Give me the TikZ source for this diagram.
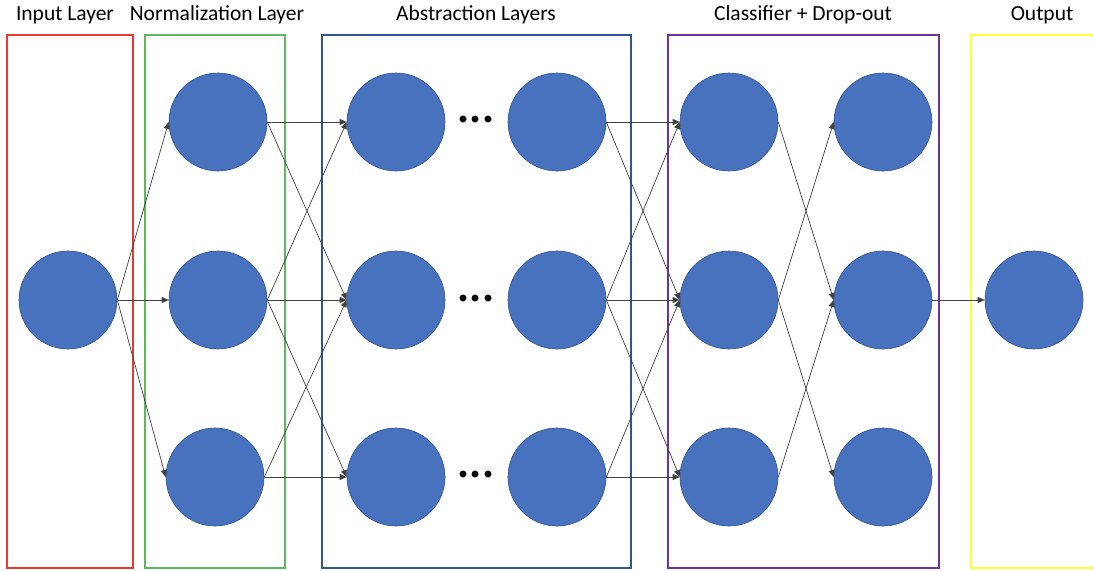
\documentclass[tikz,border=0pt]{standalone}
\usepackage{fontspec}
\setmainfont{Carlito}
\usetikzlibrary{arrows.meta}
\definecolor{neuronfill}{HTML}{4872BE}
\definecolor{neuronline}{HTML}{2F528F}
\definecolor{inputred}{HTML}{EA3A2E}
\definecolor{normgreen}{HTML}{5DB75B}
\definecolor{absblue}{HTML}{2F5597}
\definecolor{clspurple}{HTML}{7030A0}
\definecolor{outyellow}{HTML}{FFFF33}
\begin{document}
\begin{tikzpicture}[x=1pt,y=-1pt,
  neuron/.style={circle, minimum size=98pt, inner sep=0pt, fill=neuronfill, draw=neuronline, line width=0.6pt},
  layerbox/.style={line width=2.6pt},
  link/.style={draw=black!75, line width=0.7pt, -{Triangle[length=7pt,width=6pt]}},
  title/.style={font=\fontsize{21.5}{24}\selectfont, anchor=base, inner sep=0pt},
  ellipsisdot/.style={circle, fill=black, inner sep=0pt, minimum size=7pt}]

% canvas
\clip (0,0) rectangle (1094,570);
\fill[white] (0,0) rectangle (1094,570);

% layer frames
\draw[layerbox, inputred]  (7,35)   rectangle (133,568);
\draw[layerbox, normgreen] (145,35) rectangle (285,568);
\draw[layerbox, absblue]   (322,35) rectangle (631,568);
\draw[layerbox, clspurple] (668,35) rectangle (939,568);
\draw[layerbox, outyellow] (971,35) rectangle (1110,568);

% layer titles
\node[title] (tin)  at (65,20)   {Input Layer};
\node[title] (tnrm) at (217,20)  {Normalization Layer};
\node[title] (tabs) at (476,20)  {Abstraction Layers};
\node[title] (tcls) at (803,20)  {Classifier + Drop-out};
\node[title] (tout) at (1042,20) {Output};

% neurons
\node[neuron] (in) at (68,300) {};

\node[neuron] (n1) at (218,122) {};
\node[neuron] (n2) at (218,300) {};
\node[neuron] (n3) at (215,477) {};

\node[neuron] (a1) at (396,122) {};
\node[neuron] (a2) at (396,300) {};
\node[neuron] (a3) at (396,477) {};

\node[neuron] (b1) at (557,122) {};
\node[neuron] (b2) at (557,300) {};
\node[neuron] (b3) at (557,477) {};

\node[neuron] (c1) at (729,122) {};
\node[neuron] (c2) at (729,300) {};
\node[neuron] (c3) at (729,477) {};

\node[neuron] (d1) at (883,122) {};
\node[neuron] (d2) at (883,300) {};
\node[neuron] (d3) at (883,477) {};

\node[neuron] (out) at (1034,300) {};

% ellipses between the abstraction columns
\foreach \r/\y in {1/119, 2/298, 3/474} {
  \node[ellipsisdot] (e\r a) at (463,\y) {};
  \node[ellipsisdot] (e\r b) at (475,\y) {};
  \node[ellipsisdot] (e\r c) at (488,\y) {};
}

% connections: input fans out to every normalization neuron
\foreach \j in {1,2,3}
  \draw[link] (in.east) -- (n\j.west);

% neighbouring rows only between dense columns
\foreach \i/\j in {1/1, 1/2, 2/1, 2/2, 2/3, 3/2, 3/3} {
  \draw[link] (n\i.east) -- (a\j.west);
  \draw[link] (b\i.east) -- (c\j.west);
}

% drop-out: crossed links only
\foreach \i/\j in {1/2, 2/1, 2/3, 3/2}
  \draw[link] (c\i.east) -- (d\j.west);

\draw[link] (d2.east) -- (out.west);
\end{tikzpicture}
\end{document}
